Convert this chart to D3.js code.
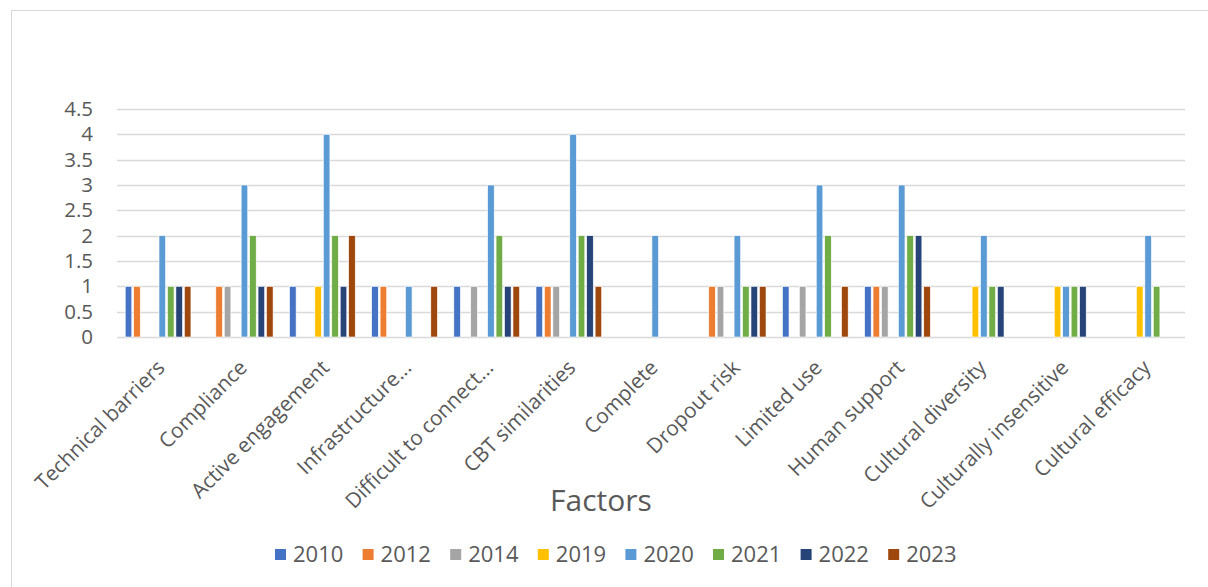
<!DOCTYPE html>
<html><head><meta charset="utf-8">
<script src="https://cdn.jsdelivr.net/npm/d3@7"></script>
<style>html,body{margin:0;padding:0;background:#fff;}svg{display:block;}</style>
</head><body>
<svg id="chart" width="1208" height="587"></svg>
<script>
const categories = ["Technical barriers","Compliance","Active engagement","Infrastructure...","Difficult to connect...","CBT similarities","Complete","Dropout risk","Limited use","Human support","Cultural diversity","Culturally insensitive","Cultural efficacy"];
const years = ["2010","2012","2014","2019","2020","2021","2022","2023"];
const v2010 = [1,0,1,1,1,1,0,0,1,1,0,0,0];
const v2012 = [1,1,0,1,0,1,0,1,0,1,0,0,0];
const v2014 = [0,1,0,0,1,1,0,1,1,1,0,0,0];
const v2019 = [0,0,1,0,0,0,0,0,0,0,1,1,1];
const v2020 = [2,3,4,1,3,4,2,2,3,3,2,1,2];
const v2021 = [1,2,2,0,2,2,0,1,2,2,1,1,1];
const v2022 = [1,1,1,0,1,2,0,1,0,2,1,1,0];
const v2023 = [1,1,2,1,1,1,0,1,1,1,0,0,0];
const yTicks = [0,0.5,1,1.5,2,2.5,3,3.5,4,4.5];
const colors = ["#4472C4","#ED7D31","#A5A5A5","#FFC000","#5B9BD5","#70AD47","#264478","#9E480E"];
const seriesValues = [v2010,v2012,v2014,v2019,v2020,v2021,v2022,v2023];

(function(){
const svg = d3.select("#chart");
const font = "'Open Sans', sans-serif";
const textColor = "#595959";

svg.append("rect").attr("x",11.5).attr("y",10.5).attr("width",1400).attr("height",800)
  .attr("fill","none").attr("stroke","#d9d9d9").attr("stroke-width",1);

const pLeft = 117, pRight = 1185, pTop = 109, pBottom = 337;
const x0 = d3.scaleBand().domain(categories).range([pLeft,pRight]).paddingInner(0).paddingOuter(0);
const bw = x0.bandwidth();
const x1 = d3.scaleBand().domain(years).range([bw*0.1, bw*0.9]).paddingInner(0.22).paddingOuter(0);
const y = d3.scaleLinear().domain([0,4.5]).range([pBottom, pTop]);

svg.append("g").selectAll("line").data(yTicks).join("line")
  .attr("x1",pLeft).attr("x2",pRight)
  .attr("y1",d=>Math.round(y(d))+0.5).attr("y2",d=>Math.round(y(d))+0.5)
  .attr("stroke","#d9d9d9").attr("stroke-width",1.5);

const yAxis = d3.axisLeft(y).tickValues(yTicks).tickSize(0).tickPadding(0).tickFormat(d3.format("~g"));
const ya = svg.append("g").attr("transform",`translate(${pLeft-24},0)`).call(yAxis);
ya.select(".domain").remove();
ya.selectAll("text").attr("font-family",font).attr("font-size",20.5).attr("fill",textColor);

const data = [];
categories.forEach((c,i)=>years.forEach((yr,j)=>{
  data.push({cat:c, year:yr, value:seriesValues[j][i], color:colors[j]});
}));
svg.append("g").selectAll("rect").data(data.filter(d=>d.value>0)).join("rect")
  .attr("x",d=>x0(d.cat)+x1(d.year))
  .attr("width",x1.bandwidth())
  .attr("y",d=>y(d.value))
  .attr("height",d=>y(0)-y(d.value))
  .attr("fill",d=>d.color)
  .attr("stroke","#fff").attr("stroke-width",0.6);

const xAxis = d3.axisBottom(x0).tickSize(0).tickPadding(0);
const xa = svg.append("g").attr("transform",`translate(0,${pBottom})`).call(xAxis);
xa.select(".domain").remove();
xa.selectAll("text")
  .attr("font-family",font).attr("font-size",20.8).attr("fill",textColor)
  .attr("text-anchor","end")
  .attr("dy",0).attr("y",0)
  .attr("transform","translate(8,32) rotate(-45)");

svg.append("text").attr("x",601).attr("y",511).attr("text-anchor","middle")
  .attr("font-family",font).attr("font-size",30).attr("fill",textColor).text("Factors");

const lg = svg.append("g");
const lx = d3.scaleBand().domain(years).range([275, 275+87.6*8]);
const item = lg.selectAll("g").data(years).join("g").attr("transform",d=>`translate(${lx(d)},549)`);
item.append("rect").attr("width",11).attr("height",11).attr("fill",(d,i)=>colors[i]);
item.append("text").attr("x",18).attr("y",13).attr("font-family",font).attr("font-size",22)
  .attr("fill",textColor).text(d=>d);
})();
</script>
</body></html>
